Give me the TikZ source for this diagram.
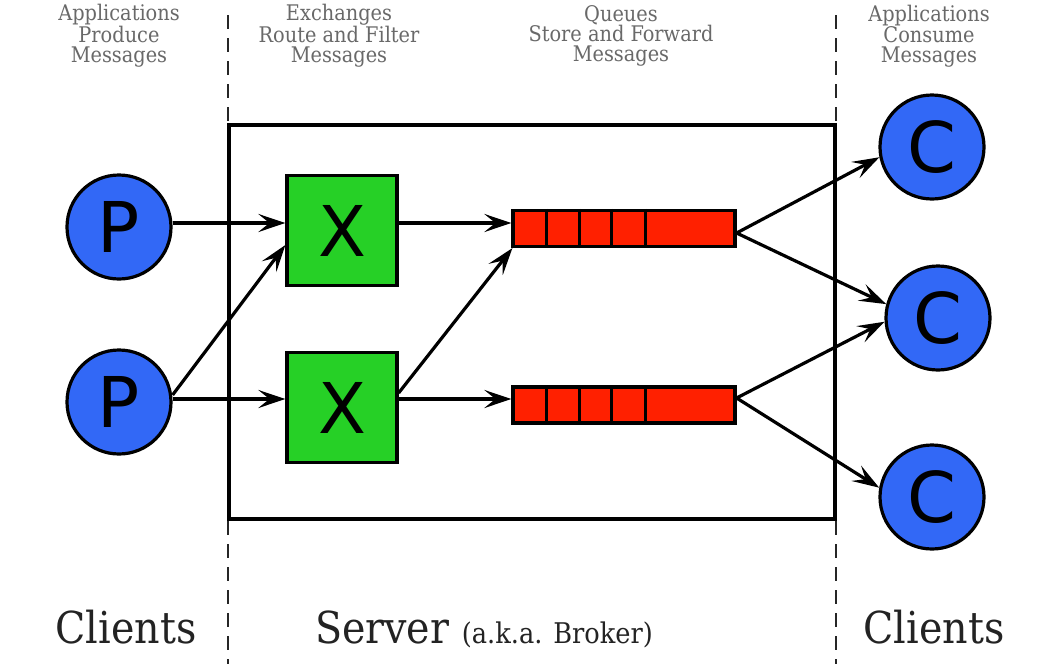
\documentclass[tikz,border=0pt]{standalone}
\usepackage{fontspec}
\newfontfamily\lblfont{DejaVu Serif Condensed}
\newfontfamily\letterfont{DejaVu Sans}
\usetikzlibrary{arrows.meta}
\definecolor{pblue}{RGB}{50,104,246}
\definecolor{xgreen}{RGB}{38,208,38}
\definecolor{qred}{RGB}{255,32,0}
\definecolor{toptext}{RGB}{105,105,105}
\definecolor{bottext}{RGB}{35,35,35}
\tikzset{
  client/.style={circle,draw=black,line width=3.2pt,fill=pblue,minimum size=104pt,inner sep=0pt,
    font=\letterfont\fontsize{70}{70}\selectfont},
  exch/.style={rectangle,draw=black,line width=3.2pt,fill=xgreen,minimum size=110pt,inner sep=0pt,
    font=\letterfont\fontsize{70}{70}\selectfont},
  queue/.style={rectangle,draw=black,line width=3.2pt,fill=qred,minimum width=222pt,minimum height=36pt,inner sep=0pt},
  qdiv/.style={black,line width=3.2pt},
  flow/.style={line width=3.2pt,-{Stealth[length=27pt,width=18pt,inset=11pt]}},
  divider/.style={line width=2.4pt,dash pattern=on 14pt off 9pt,black!85},
  toplbl/.style={align=center,text=toptext,font=\lblfont\fontsize{21.5}{20}\selectfont,inner sep=0pt},
  botlbl/.style={text=bottext,font=\lblfont\fontsize{44}{44}\selectfont,inner sep=0pt,anchor=base},
}
\begin{document}
\begin{tikzpicture}[x=1pt,y=-1pt]
\useasboundingbox[fill=white] (0,0) rectangle (1060,664);

% dashed separators
\draw[divider] (228,15) -- (228,664);
\draw[divider] (836,15) -- (836,664);

% server box
\draw[line width=3.2pt] (229,125) rectangle (835,519);

% top labels
\node[toplbl] (t1) at (119,36) {Applications\\Produce\\Messages};
\node[toplbl] (t2) at (339,36) {Exchanges\\Route and Filter\\Messages};
\node[toplbl] (t3) at (621,36) {Queues\\Store and Forward\\Messages};
\node[toplbl] (t4) at (929,36) {Applications\\Consume\\Messages};

% bottom labels
\node[botlbl] (b1) at (126,643) {Clients};
\node[botlbl,anchor=base west] (b2) at (315,643) {Server {\fontsize{28.5}{28.5}\selectfont (a.k.a. Broker)}};
\node[botlbl] (b3) at (934,643) {Clients};

% producers
\node[client] (p1) at (119,227) {P};
\node[client] (p2) at (119,402) {P};

% exchanges
\node[exch] (x1) at (342,230.5) {X};
\node[exch] (x2) at (342,407.5) {X};

% queues
\node[queue] (q1) at (624,228.5) {};
\node[queue] (q2) at (624,405) {};
\foreach \q in {q1,q2}{
  \foreach \d in {35,68,100,134}{
    \draw[qdiv] ([xshift=\d pt]\q.north west) -- ([xshift=\d pt]\q.south west);
  }
}

% consumers
\node[client] (c1) at (932,147) {C};
\node[client] (c2) at (938,318) {C};
\node[client] (c3) at (932,497) {C};

% connectors
\draw[flow] ([yshift=4pt]p1.east) -- ([yshift=4pt]p1.east -| x1.west);
\draw[flow] ([yshift=3pt]p2.east) -- ([yshift=3pt]p2.east -| x2.west);
\draw[flow] ([yshift=7pt]p2.east) -- ([yshift=-14.5pt]x1.west);
\draw[flow] ([yshift=4pt]p1.east -| x1.east) -- ([yshift=4pt]p1.east -| q1.west);
\draw[flow] ([yshift=3pt]p2.east -| x2.east) -- ([yshift=3pt]p2.east -| q2.west);
\draw[flow] ([yshift=14.5pt]x2.east) -- ([xshift=1pt]q1.south west);
\draw[flow] ([yshift=-4.5pt]q1.east) -- (c1.191);
\draw[flow] ([yshift=-4.5pt]q1.east) -- (c2.165);
\draw[flow] ([yshift=7pt]q2.east) -- (c2.184);
\draw[flow] ([yshift=7pt]q2.east) -- (c3.170);
\end{tikzpicture}
\end{document}
